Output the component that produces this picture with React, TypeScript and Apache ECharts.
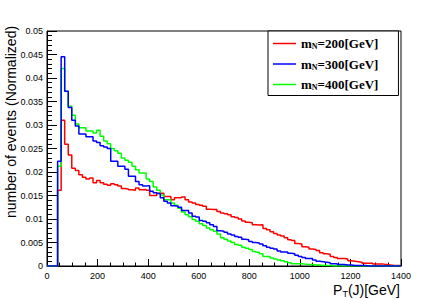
import React, { useEffect, useRef } from "react";
import * as echarts from "echarts";

// Histogram binning: 100 bins of 14 GeV from 0 to 1400 GeV
const BIN_WIDTH = 14;
const X_MIN = 0;
const X_MAX = 1400;
const X_INTERVAL = 200;
const Y_MIN = 0;
const Y_MAX = 0.05;
const Y_INTERVAL = 0.005;

const seriesNames = ["m_N=200[GeV]", "m_N=300[GeV]", "m_N=400[GeV]"];
const massLabels = ["200", "300", "400"];

// normalized event fractions per bin (m_N = 200 GeV)
const red200 = [
  0, 0, 0, 0.0161, 0.0310, 0.0259, 0.0236, 0.0208, 0.0203, 0.0194,
  0.0189, 0.0185, 0.0187, 0.0177, 0.0182, 0.0177, 0.0174, 0.0172, 0.0175, 0.0173,
  0.0170, 0.0165, 0.0164, 0.0162, 0.0161, 0.0166, 0.0162, 0.0163, 0.0161, 0.0150,
  0.0150, 0.0155, 0.0155, 0.0148, 0.0148, 0.0141, 0.0145, 0.0145, 0.0147, 0.0141,
  0.0136, 0.0134, 0.0131, 0.0129, 0.0127, 0.0121, 0.0120, 0.0120, 0.0116, 0.0113,
  0.0111, 0.0109, 0.0105, 0.0103, 0.0100, 0.0096, 0.0093, 0.0092, 0.0088, 0.0087,
  0.0088, 0.0080, 0.0077, 0.0073, 0.0069, 0.0066, 0.0064, 0.0060, 0.0056, 0.0054,
  0.0048, 0.0047, 0.0041, 0.0040, 0.0036, 0.0035, 0.0033, 0.0028, 0.0026, 0.0025,
  0.0020, 0.0018, 0.0016, 0.0016, 0.0015, 0.0011, 0.0010, 0.0009, 0.0008, 0.0006,
  0.0006, 0.0006, 0.0004, 0.0004, 0.0004, 0.0003, 0.0002, 0.0001, 0.0001, 0.0001,
];

// m_N = 300 GeV
const blue300 = [
  0, 0, 0, 0.0223, 0.0445, 0.0372, 0.0337, 0.0310, 0.0298, 0.0281,
  0.0281, 0.0275, 0.0275, 0.0266, 0.0263, 0.0256, 0.0253, 0.0250, 0.0223, 0.0223,
  0.0212, 0.0212, 0.0206, 0.0191, 0.0191, 0.0180, 0.0173, 0.0170, 0.0171, 0.0159,
  0.0156, 0.0154, 0.0145, 0.0138, 0.0134, 0.0128, 0.0127, 0.0125, 0.0118, 0.0118,
  0.0113, 0.0106, 0.0104, 0.0097, 0.0095, 0.0092, 0.0088, 0.0084, 0.0075, 0.0074,
  0.0072, 0.0068, 0.0066, 0.0063, 0.0061, 0.0057, 0.0056, 0.0052, 0.0050, 0.0049,
  0.0047, 0.0043, 0.0040, 0.0038, 0.0036, 0.0032, 0.0030, 0.0030, 0.0027, 0.0026,
  0.0023, 0.0020, 0.0018, 0.0016, 0.0016, 0.0013, 0.0010, 0.0009, 0.0008, 0.0007,
  0.0005, 0.0005, 0.0003, 0.0003, 0.0002, 0.0002, 0.0001, 0.0001, 0.0001, 0.0001,
  0, 0, 0, 0, 0, 0, 0, 0, 0, 0,
];

// m_N = 400 GeV
const green400 = [
  0, 0, 0, 0.0212, 0.0420, 0.0372, 0.0340, 0.0321, 0.0302, 0.0294,
  0.0294, 0.0287, 0.0287, 0.0283, 0.0289, 0.0276, 0.0266, 0.0260, 0.0250, 0.0245,
  0.0240, 0.0230, 0.0225, 0.0221, 0.0212, 0.0205, 0.0198, 0.0198, 0.0185, 0.0180,
  0.0168, 0.0161, 0.0151, 0.0141, 0.0141, 0.0134, 0.0129, 0.0123, 0.0115, 0.0109,
  0.0105, 0.0099, 0.0095, 0.0090, 0.0086, 0.0081, 0.0077, 0.0074, 0.0068, 0.0060,
  0.0057, 0.0053, 0.0050, 0.0046, 0.0044, 0.0040, 0.0038, 0.0035, 0.0031, 0.0029,
  0.0026, 0.0020, 0.0020, 0.0017, 0.0015, 0.0013, 0.0011, 0.0009, 0.0007, 0.0005,
  0.0005, 0.0005, 0.0004, 0.0003, 0.0003, 0.0002, 0.0002, 0.0001, 0.0001, 0.0001,
  0, 0, 0, 0, 0, 0, 0, 0, 0, 0,
  0, 0, 0, 0, 0, 0, 0, 0, 0, 0,
];

const seriesValues = [red200, blue300, green400];
const seriesColors = ["#ff0000", "#0000ff", "#00ff00"];
// draw order: red, green, blue (blue on top)
const drawOrder = [0, 2, 1];

function toSteps(vals: number[]): number[][] {
  const pts: number[][] = [];
  vals.forEach((v, i) => {
    pts.push([i * BIN_WIDTH, v]);
    pts.push([(i + 1) * BIN_WIDTH, v]);
  });
  return pts;
}

const SANS = '"Liberation Sans", Arial, Helvetica, sans-serif';
const SERIF = '"Liberation Serif", "Times New Roman", serif';

export default function App() {
  const ref = useRef<HTMLDivElement>(null);

  useEffect(() => {
    document.body.style.margin = "0";
    if (!ref.current) return;
    const chart = echarts.init(ref.current, undefined, { renderer: "svg" });

    const series = drawOrder.map((idx) => ({
      name: seriesNames[idx],
      type: "line",
      data: toSteps(seriesValues[idx]),
      symbol: "none",
      showSymbol: false,
      lineStyle: { color: seriesColors[idx], width: 1.5 },
      itemStyle: { color: seriesColors[idx] },
      z: 3,
    }));

    const option: any = {
      animation: false,
      grid: {
        left: 47,
        right: 47,
        top: 31,
        bottom: 33,
        show: true,
        borderColor: "#000",
        borderWidth: 1,
        backgroundColor: "transparent",
      },
      xAxis: {
        type: "value",
        min: X_MIN,
        max: X_MAX,
        interval: X_INTERVAL,
        axisLine: { show: true, lineStyle: { color: "#000", width: 1 } },
        axisTick: { show: true, inside: true, length: 7, lineStyle: { color: "#000" } },
        minorTick: { show: true, splitNumber: 4, length: 3.5, lineStyle: { color: "#000" } },
        splitLine: { show: false },
        axisLabel: {
          fontSize: 9,
          color: "#000",
          margin: 5,
          fontFamily: SANS,
          formatter: (v: number) => String(v),
        },
      },
      yAxis: {
        type: "value",
        min: Y_MIN,
        max: Y_MAX,
        interval: Y_INTERVAL,
        axisLine: { show: true, lineStyle: { color: "#000", width: 1 } },
        axisTick: { show: true, inside: true, length: 10, lineStyle: { color: "#000" } },
        minorTick: { show: true, splitNumber: 5, length: 5, lineStyle: { color: "#000" } },
        splitLine: { show: false },
        axisLabel: {
          fontSize: 9,
          color: "#000",
          margin: 4,
          fontFamily: SANS,
          formatter: (v: number) => (v === 0 ? "0" : String(+v.toFixed(3))),
        },
      },
      legend: {
        orient: "vertical",
        left: 268,
        top: 31,
        icon: "rect",
        itemWidth: 23,
        itemHeight: 1.5,
        itemGap: 7,
        padding: [6, 20, 4, 5],
        borderColor: "#000",
        borderWidth: 1,
        backgroundColor: "#fff",
        data: seriesNames,
        formatter: (name: string) => {
          const i = seriesNames.indexOf(name);
          return `{b|m}{s|N}{b|=${massLabels[i]}[GeV]}`;
        },
        textStyle: {
          rich: {
            b: { fontFamily: SERIF, fontWeight: "bold", fontSize: 13, color: "#000", lineHeight: 14 },
            s: { fontFamily: SERIF, fontWeight: "bold", fontSize: 8, color: "#000", lineHeight: 5, verticalAlign: "bottom" },
          },
        },
      },
      graphic: [
        {
          type: "text",
          x: 11,
          y: 122,
          rotation: Math.PI / 2,
          style: {
            text: "number of events (Normalized)",
            fontFamily: SANS,
            fontSize: 14,
            fill: "#000",
            align: "center",
            verticalAlign: "middle",
          },
        },
        {
          type: "text",
          x: 400,
          y: 290,
          style: {
            text: "{a|P}{t|T}{a|(J)[GeV]}",
            align: "right",
            verticalAlign: "middle",
            fill: "#000",
            rich: {
              a: { fontFamily: SANS, fontSize: 14, lineHeight: 16, fill: "#000" },
              t: { fontFamily: SANS, fontSize: 9, lineHeight: 9, verticalAlign: "bottom", fill: "#000" },
            },
          },
        },
      ],
      series,
    };

    chart.setOption(option);
    return () => chart.dispose();
  }, []);

  return <div ref={ref} style={{ width: 448, height: 299 }} />;
}
